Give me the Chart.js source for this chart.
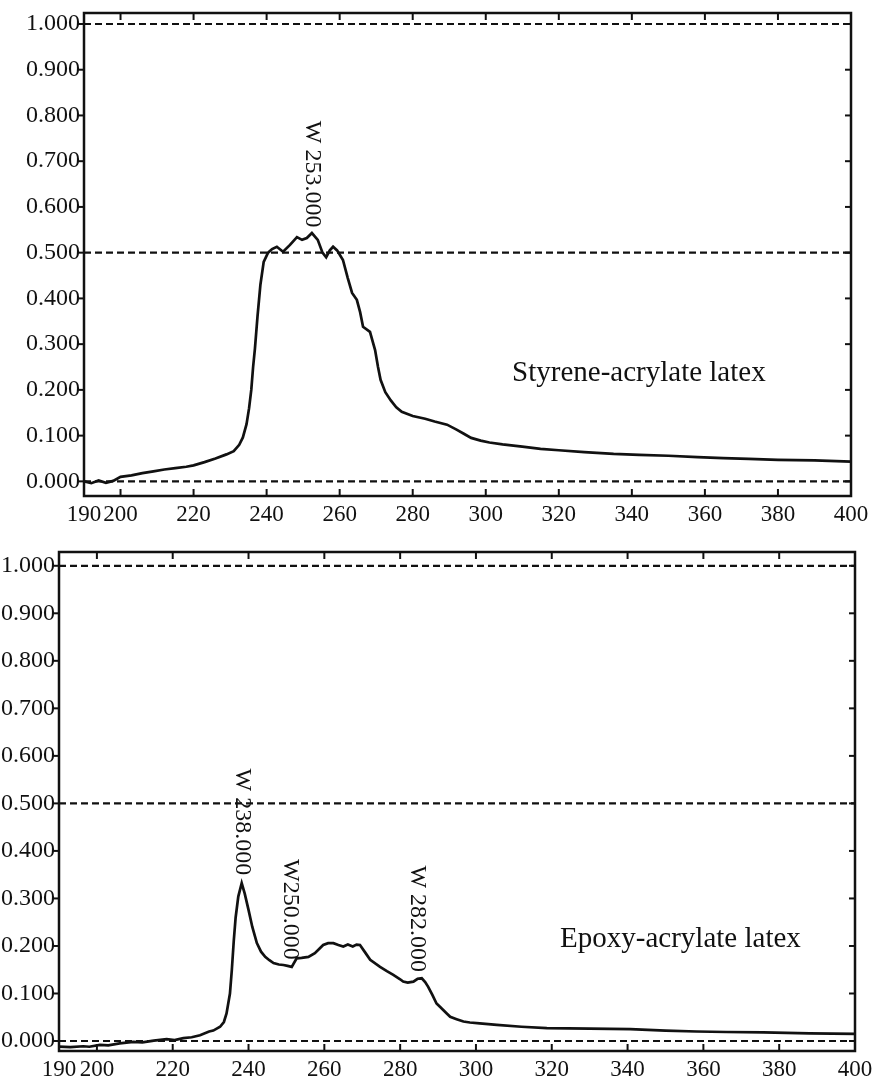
<!DOCTYPE html>
<html>
<head>
<meta charset="utf-8">
<title>UV spectra of latex</title>
<script src="https://cdn.jsdelivr.net/npm/chart.js@4.4.1/dist/chart.umd.min.js"></script>
<style>
  html, body { margin: 0; padding: 0; background: #fff; }
  #wrap { position: relative; width: 874px; height: 1082px; }
  canvas { position: absolute; left: 0; }
  #topChart { top: 0; }
  #bottomChart { top: 540px; }
</style>
</head>
<body>
<div id="wrap">
  <canvas id="topChart" width="874" height="540"></canvas>
  <canvas id="bottomChart" width="874" height="542"></canvas>
</div>
<script>
// ── DATA ──
const xTicks = [190, 200, 220, 240, 260, 280, 300, 320, 340, 360, 380, 400];
const yTicks = [0, 0.1, 0.2, 0.3, 0.4, 0.5, 0.6, 0.7, 0.8, 0.9, 1.0];
const refLevels = [0, 0.5, 1.0];

// Styrene-acrylate latex (top)
const styreneWl = [190, 192, 194, 196, 198, 200, 203, 206, 209, 212, 215, 218, 220, 223, 226, 229, 231,
  232.5, 233.5, 234.5, 235.2, 235.8, 236.3, 236.8, 237.5, 238.3, 239.2, 240.4, 241.5, 242.8, 244.5,
  246.4, 248.3, 249.7, 251, 252.4, 254, 255.3, 256.3, 257.3, 258.2, 259.3, 260.9, 262.2, 263.4,
  264.7, 265.6, 266.4, 268.3, 269.7, 270.5, 271.2, 272.5, 274, 275.5, 277, 280, 283.4, 286, 289.4,
  292, 294, 296, 298.6, 301, 304.6, 310, 315, 320, 327, 335, 342, 350, 358, 365, 372, 380, 390, 400];
const styreneAbs = [0.000, -0.004, 0.002, -0.003, 0.001, 0.010, 0.013, 0.018, 0.022, 0.026, 0.029, 0.032, 0.035, 0.042, 0.050, 0.059, 0.066,
  0.080, 0.096, 0.125, 0.160, 0.200, 0.250, 0.290, 0.360, 0.430, 0.480, 0.500, 0.508, 0.513, 0.502,
  0.517, 0.534, 0.528, 0.532, 0.543, 0.528, 0.500, 0.490, 0.505, 0.513, 0.505, 0.484, 0.445, 0.412,
  0.397, 0.370, 0.338, 0.327, 0.287, 0.250, 0.222, 0.195, 0.177, 0.162, 0.152, 0.143, 0.137, 0.131, 0.124,
  0.113, 0.104, 0.095, 0.089, 0.085, 0.081, 0.076, 0.071, 0.068, 0.064, 0.060, 0.058, 0.056, 0.053, 0.051, 0.049, 0.047, 0.046, 0.043];
const styreneMarks = ['W 253.000'];
const styreneMarkX = [252.5];
const styreneMarkY = [0.555];

// Epoxy-acrylate latex (bottom)
const epoxyWl = [190, 193, 196.4, 198, 200.8, 203, 206, 209.6, 212, 215, 218.4, 220.5, 222.8, 225, 227.2,
  229.6, 230.7, 232.5, 233.5, 234.2, 235.1, 235.6, 236.1, 236.6, 237.3, 238.2, 239, 240, 241, 242.2,
  243.3, 244.4, 245.5, 246.6, 248, 249.2, 250.3, 251.4, 252.7, 254, 255.8, 257.5, 259.7, 261, 262.4,
  263.7, 265, 266.2, 267.5, 268.5, 269.4, 270.8, 272.1, 274.7, 276.5, 278.2, 280, 280.8, 282, 283.5,
  284.6, 285.7, 286.6, 287.4, 288.5, 289.6, 290.5, 292.3, 293.2, 294.9, 296.7, 298.4, 301, 305.5, 312,
  318.7, 330, 340.7, 350, 358.2, 366, 375.8, 388, 400];
const epoxyAbs = [-0.012, -0.013, -0.011, -0.012, -0.008, -0.009, -0.005, -0.002, -0.003, 0.001, 0.004, 0.002, 0.006, 0.008, 0.012,
  0.020, 0.022, 0.030, 0.040, 0.058, 0.100, 0.150, 0.210, 0.260, 0.304, 0.332, 0.310, 0.276, 0.240, 0.206,
  0.188, 0.177, 0.170, 0.164, 0.161, 0.160, 0.158, 0.156, 0.174, 0.175, 0.177, 0.185, 0.202, 0.206, 0.206,
  0.202, 0.199, 0.203, 0.199, 0.203, 0.202, 0.186, 0.171, 0.156, 0.147, 0.139, 0.130, 0.125, 0.123, 0.125,
  0.131, 0.132, 0.124, 0.114, 0.097, 0.079, 0.072, 0.058, 0.051, 0.046, 0.041, 0.039, 0.037, 0.034, 0.030,
  0.027, 0.026, 0.025, 0.022, 0.020, 0.019, 0.018, 0.016, 0.015];
const epoxyMarks = ['W 238.000', 'W250.000', 'W 282.000'];
const epoxyMarkX = [238.3, 250.9, 284.5];
const epoxyMarkY = [0.349, 0.171, 0.145];

const SERIF = '"Liberation Serif", "Times New Roman", serif';
const INK = '#111';

// ── FRAME, TICKS, DASHED LEVELS AND LABELS ──
const framePlugin = {
  id: 'frame',
  afterDatasetsDraw(chart, args, opts) {
    const { ctx, chartArea: a, scales: { x, y } } = chart;
    const line = (x1, y1, x2, y2) => { ctx.beginPath(); ctx.moveTo(x1, y1); ctx.lineTo(x2, y2); ctx.stroke(); };
    ctx.save();
    ctx.strokeStyle = INK;

    // dashed reference levels
    ctx.lineWidth = 2.2;
    ctx.setLineDash([7, 4]);
    refLevels.forEach(v => {
      const py = y.getPixelForValue(v);
      line(a.left, py, a.right, py);
    });
    ctx.setLineDash([]);

    // box
    ctx.lineWidth = 2.5;
    ctx.strokeRect(a.left, a.top, a.right - a.left, a.bottom - a.top);

    // tick marks: inward on top/bottom/right, outward on the left
    ctx.lineWidth = 2;
    xTicks.forEach(v => {
      if (v <= x.min || v >= x.max) return;
      const px = x.getPixelForValue(v);
      line(px, a.bottom, px, a.bottom - 7);
      line(px, a.top, px, a.top + 7);
    });
    yTicks.forEach(v => {
      const py = y.getPixelForValue(v);
      line(a.left - 6, py, a.left + 1, py);
      line(a.right, py, a.right - 6, py);
    });

    // peak labels, rotated, ending just above the peak
    ctx.fillStyle = INK;
    ctx.font = '24px ' + SERIF;
    ctx.textAlign = 'right';
    ctx.textBaseline = 'middle';
    opts.marks.forEach((t, i) => {
      ctx.save();
      ctx.translate(x.getPixelForValue(opts.markX[i]), y.getPixelForValue(opts.markY[i]));
      ctx.rotate(Math.PI / 2);
      ctx.fillText(t, 0, 0);
      ctx.restore();
    });

    // sample name
    ctx.font = '29px ' + SERIF;
    ctx.textAlign = 'left';
    ctx.fillText(opts.name, x.getPixelForValue(opts.nameX), y.getPixelForValue(opts.nameY));
    ctx.restore();
  }
};

function makePanel(canvasId, wl, abs, p) {
  const ctx = document.getElementById(canvasId);
  return new Chart(ctx, {
    type: 'line',
    data: {
      datasets: [{
        data: wl.map((w, i) => ({ x: w, y: abs[i] })),
        borderColor: INK,
        borderWidth: 2.7,
        pointRadius: 0,
        tension: 0,
        fill: false
      }]
    },
    options: {
      responsive: false,
      animation: false,
      layout: { padding: { top: p.padTop, right: p.padRight, left: 0, bottom: 0 } },
      scales: {
        x: {
          type: 'linear',
          min: 190,
          max: 400,
          afterBuildTicks: s => { s.ticks = xTicks.map(v => ({ value: v })); },
          afterFit: s => { s.height = p.xHeight; s.paddingLeft = 0; s.paddingRight = 0; },
          grid: { display: true, drawOnChartArea: false, drawTicks: false },
          border: { display: false },
          ticks: {
            autoSkip: false,
            maxRotation: 0,
            padding: 5,
            color: INK,
            font: { family: SERIF, size: 23 }
          }
        },
        y: {
          min: p.yMin,
          max: p.yMax,
          afterBuildTicks: s => { s.ticks = yTicks.map(v => ({ value: v })); },
          afterFit: s => { s.width = p.yWidth; s.paddingTop = 0; s.paddingBottom = 0; },
          grid: { display: true, drawOnChartArea: false, drawTicks: false },
          border: { display: false },
          ticks: {
            padding: 4,
            color: INK,
            font: { family: SERIF, size: 24 },
            callback: v => Number(v).toFixed(3)
          }
        }
      },
      plugins: {
        legend: { display: false },
        tooltip: { enabled: false },
        frame: p.frame
      }
    },
    plugins: [framePlugin]
  });
}

// ── PANELS ──
makePanel('topChart', styreneWl, styreneAbs, {
  padTop: 13, padRight: 23, xHeight: 44, yWidth: 84, yMin: -0.032, yMax: 1.024,
  frame: {
    marks: styreneMarks, markX: styreneMarkX, markY: styreneMarkY,
    name: 'Styrene-acrylate latex', nameX: 307.2, nameY: 0.237
  }
});

makePanel('bottomChart', epoxyWl, epoxyAbs, {
  padTop: 12, padRight: 19, xHeight: 31, yWidth: 59, yMin: -0.021, yMax: 1.029,
  frame: {
    marks: epoxyMarks, markX: epoxyMarkX, markY: epoxyMarkY,
    name: 'Epoxy-acrylate latex', nameX: 322.2, nameY: 0.213
  }
});
</script>
</body>
</html>
